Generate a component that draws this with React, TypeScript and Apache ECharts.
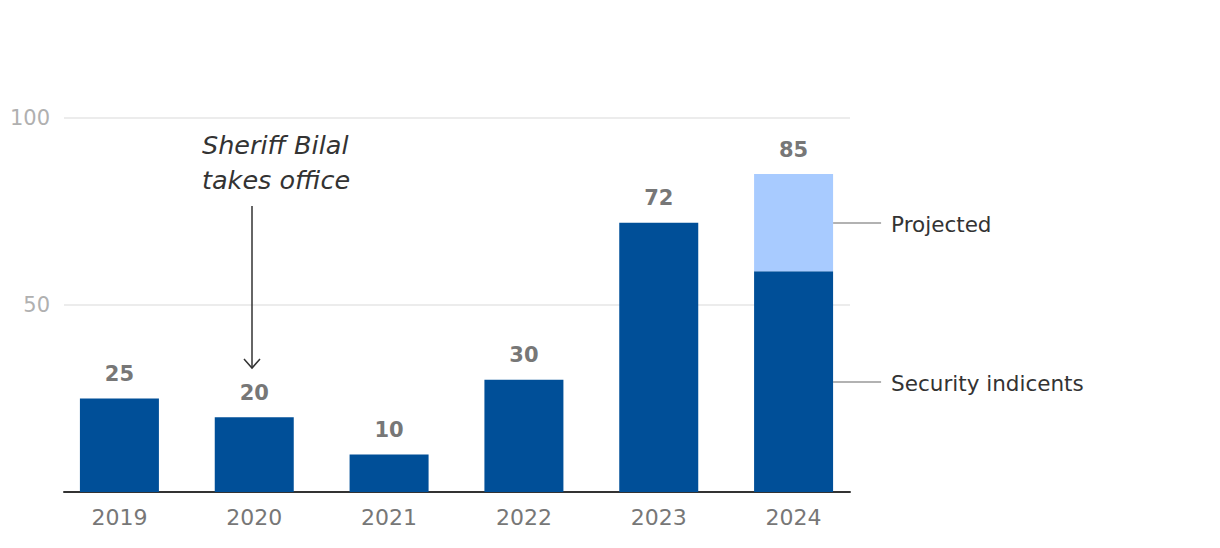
import React, { useEffect, useRef } from 'react';
import * as echarts from 'echarts';

const years = ['2019', '2020', '2021', '2022', '2023', '2024'];
const incidents = [25, 20, 10, 30, 72, 59];
const projected: (number | null)[] = [null, null, null, null, null, 26];
const yTicks = [0, 50, 100];
const seriesNames = ['Security indicents', 'Projected'];
const annotationText = ['Sheriff Bilal', 'takes office'];

const FONT = '"DejaVu Sans", "Noto Sans", sans-serif';
const DARK = '#004F98';
const LIGHT = '#A8CBFF';

export default function App() {
  const ref = useRef<HTMLDivElement>(null);
  useEffect(() => {
    if (!ref.current) return;
    const chart = echarts.init(ref.current, undefined, { renderer: 'svg' });
    const gridTop = 118;
    const gridBottom = 56;
    const valueLabel = {
      show: true,
      position: 'top',
      distance: 14,
      color: '#777777',
      fontSize: 21,
      fontWeight: 'bold',
      fontFamily: FONT,
    };
    const option: any = {
      animation: false,
      backgroundColor: '#ffffff',
      textStyle: { fontFamily: FONT },
      grid: [
        { left: 64, right: 370, top: gridTop, bottom: gridBottom },
        { left: 52, width: 809, top: gridTop, bottom: gridBottom },
      ],
      xAxis: [
        {
          gridIndex: 0,
          type: 'category',
          data: years,
          axisLine: { show: true, lineStyle: { color: '#333333', width: 2 } },
          axisTick: { show: false },
          axisLabel: { show: false },
          splitLine: { show: false },
        },
        {
          gridIndex: 1,
          type: 'category',
          data: years,
          axisLine: { show: false },
          axisTick: { show: false },
          axisLabel: { color: '#777777', fontSize: 22, margin: 14, fontFamily: FONT },
        },
      ],
      yAxis: [
        {
          gridIndex: 0,
          type: 'value',
          min: yTicks[0],
          max: yTicks[yTicks.length - 1],
          interval: yTicks[1] - yTicks[0],
          axisLine: { show: false },
          axisTick: { show: false },
          axisLabel: {
            showMinLabel: false,
            color: '#b0b0b0',
            fontSize: 21,
            margin: 14,
            fontFamily: FONT,
          },
          splitLine: { lineStyle: { color: '#e6e6e6', width: 1.5 } },
        },
        {
          gridIndex: 1,
          type: 'value',
          min: yTicks[0],
          max: yTicks[yTicks.length - 1],
          show: false,
          splitLine: { show: false },
        },
      ],
      series: [
        {
          name: seriesNames[0],
          type: 'bar',
          xAxisIndex: 1,
          yAxisIndex: 1,
          stack: 'total',
          barWidth: 79,
          itemStyle: { color: DARK },
          label: valueLabel,
          data: incidents.map((v, i) => ({ value: v, label: { show: projected[i] == null } })),
        },
        {
          name: seriesNames[1],
          type: 'bar',
          xAxisIndex: 1,
          yAxisIndex: 1,
          stack: 'total',
          barWidth: 79,
          itemStyle: { color: LIGHT },
          label: valueLabel,
          data: projected.map((v, i) =>
            v == null ? null : { value: v, label: { formatter: String(incidents[i] + v) } }
          ),
        },
      ],
    };
    chart.setOption(option);

    const lastIdx = years.length - 1;
    const barHalf = 79 / 2;
    const graphics: any[] = [];
    const darkMid = chart.convertToPixel({ xAxisIndex: 1, yAxisIndex: 1 } as any, [
      years[lastIdx],
      incidents[lastIdx] / 2,
    ]) as number[];
    const projMid = chart.convertToPixel({ xAxisIndex: 1, yAxisIndex: 1 } as any, [
      years[lastIdx],
      incidents[lastIdx] + (projected[lastIdx] ?? 0) / 2,
    ]) as number[];
    [
      { p: projMid, name: seriesNames[1] },
      { p: darkMid, name: seriesNames[0] },
    ].forEach(({ p, name }) => {
      const x0 = p[0] + barHalf;
      const y = Math.round(p[1]);
      graphics.push({
        type: 'line',
        shape: { x1: x0, y1: y, x2: x0 + 48, y2: y },
        style: { stroke: '#999999', lineWidth: 1.5 },
      });
      graphics.push({
        type: 'text',
        x: x0 + 58,
        y: y + 1,
        style: {
          text: name,
          fill: '#333333',
          font: `21.5px ${FONT}`,
          verticalAlign: 'middle',
          align: 'left',
        },
      });
    });

    graphics.push({
      type: 'text',
      x: 202,
      y: 127,
      style: {
        text: annotationText.join('\n'),
        fill: '#333333',
        font: `italic 25.5px ${FONT}`,
        lineHeight: 35,
        verticalAlign: 'top',
        align: 'left',
      },
    });
    graphics.push({
      type: 'line',
      shape: { x1: 252, y1: 206, x2: 252, y2: 367 },
      style: { stroke: '#333333', lineWidth: 1.5 },
    });
    graphics.push({
      type: 'polyline',
      shape: { points: [[244, 359], [252, 368], [260, 359]] },
      style: { stroke: '#333333', lineWidth: 1.5, fill: 'none' },
    });

    chart.setOption({ graphic: graphics });
    return () => chart.dispose();
  }, []);
  return (
    <div
      ref={ref}
      style={{ position: 'fixed', left: 0, top: 0, width: 1220, height: 548 }}
    />
  );
}
